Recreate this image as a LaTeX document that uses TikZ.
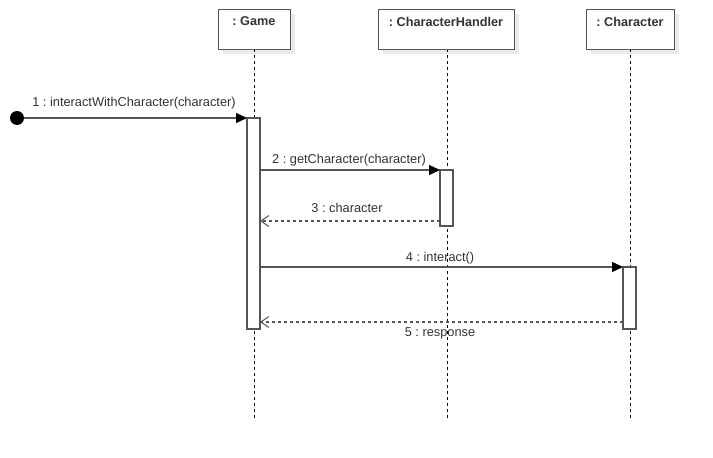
\documentclass[tikz,border=0pt]{standalone}
\usepackage{fontspec}
\setmainfont{Liberation Sans}
\usetikzlibrary{arrows.meta}
\definecolor{ln}{HTML}{555555}
\definecolor{tx}{HTML}{333333}
\definecolor{shd}{HTML}{EBEBEB}
\tikzset{
  head/.style={draw=ln, line width=1.3pt, fill=white, minimum height=40pt, anchor=north west, inner sep=0pt},
  headtxt/.style={font=\bfseries\fontsize{12.7pt}{14pt}\selectfont, text=tx},
  life/.style={draw=black, dash pattern=on 3pt off 3pt, line width=0.9pt},
  act/.style={draw=ln, line width=1.3pt, fill=white},
  msg/.style={draw=ln, line width=1.3pt, -{Triangle[length=11pt,width=10pt,fill=black,color=black]}},
  ret/.style={draw=ln, line width=1.3pt, dash pattern=on 3.5pt off 2.5pt, -{Straight Barb[length=8pt,width=11pt,line width=1pt]}},
  lbl/.style={font=\fontsize{12.8pt}{14pt}\selectfont, text=tx},
  dot/.style={circle, fill=black, inner sep=0pt, minimum size=14pt}
}
\begin{document}
\frenchspacing
\begin{tikzpicture}[x=1pt,y=-1pt]
\useasboundingbox (0,0) rectangle (713,458);
% shadows
\fill[shd] (223,14) rectangle (295,54);
\fill[shd] (383,14) rectangle (519,54);
\fill[shd] (591,14) rectangle (679,54);
% lifelines
\draw[life] (254,49) -- (254,418);
\draw[life] (447,49) -- (447,418);
\draw[life] (630,49) -- (630,418);
% heads
\node[head, minimum width=72pt] (game) at (218,9) {};
\node[headtxt] at (254,21.5) {: Game};
\node[head, minimum width=136pt] (ch) at (378,9) {};
\node[headtxt] at (446,21.5) {: CharacterHandler};
\node[head, minimum width=88pt] (chr) at (586,9) {};
\node[headtxt] at (630,21.5) {: Character};
% activations
\draw[act] (247,118) rectangle (260,329);
\draw[act] (440,170) rectangle (453,226);
\draw[act] (623,267) rectangle (636,329);
\coordinate (g1) at (247,118);
\coordinate (g2) at (260,170);
\coordinate (h2) at (440,170);
\coordinate (h3) at (440,221);
\coordinate (g3) at (260,221);
\coordinate (g4) at (260,267);
\coordinate (c4) at (623,267);
\coordinate (c5) at (623,322);
\coordinate (g5) at (260,322);
% found message
\node[dot] (start) at (17,118) {};
\draw[msg] (start) -- (g1);
\node[lbl] at (134,103.5) {1 : interactWithCharacter(character)};
\draw[msg] (g2) -- (h2);
\node[lbl] at (349,160.5) {2 : getCharacter(character)};
\draw[ret] (h3) -- (g3);
\node[lbl] at (347,207.5) {3 : character};
\draw[msg] (g4) -- (c4);
\node[lbl] at (440,258) {4 : interact()};
\draw[ret] (c5) -- (g5);
\node[lbl] at (440,333) {5 : response};
\end{tikzpicture}
\end{document}
